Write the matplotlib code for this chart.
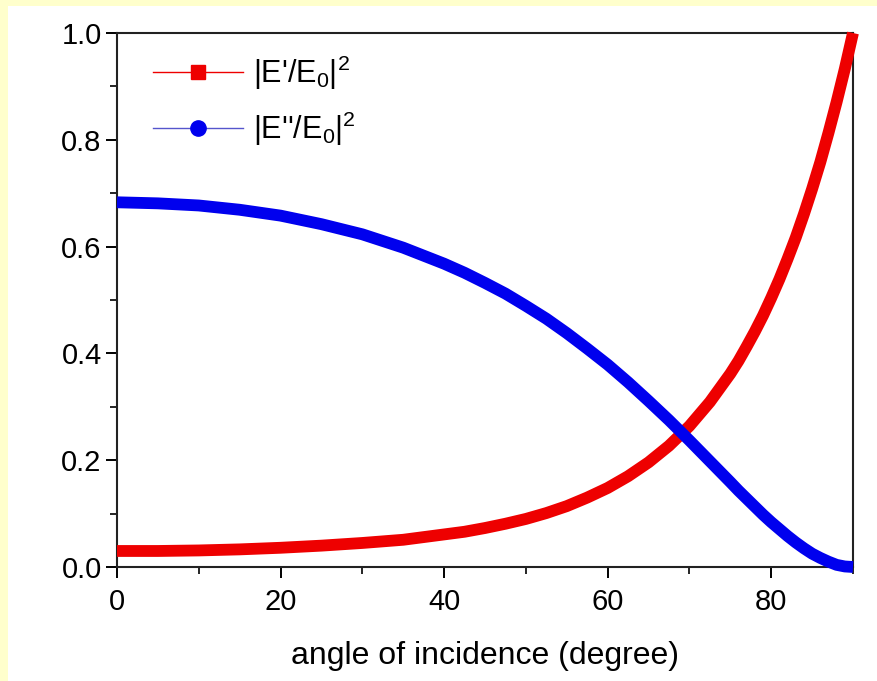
import matplotlib
matplotlib.use("Agg")
import matplotlib.pyplot as plt
from matplotlib.lines import Line2D
from matplotlib.patches import Rectangle
from matplotlib.ticker import MultipleLocator, FormatStrFormatter

plt.rcParams['font.family'] = ['Liberation Sans', 'DejaVu Sans']
plt.rcParams['mathtext.fontset'] = 'custom'
plt.rcParams['mathtext.rm'] = 'Liberation Sans'
plt.rcParams['mathtext.it'] = 'Liberation Sans'

angle = [0, 5, 10, 15, 20, 25, 30, 35, 40, 42.5, 45, 47.5, 50, 52.5, 55, 57.5,
         60, 62.5, 65, 67.5, 70, 72.5, 75, 76, 77, 78, 79, 80, 81, 82, 83, 84,
         85, 86, 87, 88, 89, 90]
reflected = [0.030, 0.030, 0.031, 0.033, 0.036, 0.040, 0.045, 0.051, 0.061, 0.066,
             0.073, 0.081, 0.090, 0.101, 0.114, 0.130, 0.148, 0.170, 0.196, 0.227,
             0.264, 0.309, 0.362, 0.386, 0.413, 0.441, 0.471, 0.504, 0.539, 0.577,
             0.617, 0.661, 0.708, 0.758, 0.813, 0.871, 0.933, 1.000]
transmitted = [0.683, 0.681, 0.677, 0.669, 0.658, 0.642, 0.623, 0.598, 0.568, 0.551,
               0.532, 0.512, 0.489, 0.465, 0.438, 0.409, 0.379, 0.346, 0.311, 0.275,
               0.237, 0.198, 0.159, 0.143, 0.128, 0.113, 0.098, 0.084, 0.071, 0.058,
               0.046, 0.035, 0.025, 0.017, 0.010, 0.004, 0.001, 0.000]
labels = ["|E'/E$_0$|$^2$", "|E''/E$_0$|$^2$"]
xlabel = "angle of incidence (degree)"

fig = plt.figure(figsize=(8.78, 6.81), dpi=100)
fig.patch.set_facecolor('#FFFFCC')
bg = Rectangle((8 / 878, 0), 1 - 8 / 878, 1 - 6 / 681,
               transform=fig.transFigure, facecolor='white',
               edgecolor='none', zorder=-10)
fig.add_artist(bg)

ax = fig.add_axes([117 / 878, 1 - 567 / 681, (853 - 117) / 878, (567 - 33) / 681])
ax.set_zorder(5)
ax.set_facecolor('white')

red = '#EE0000'
blue = '#0000EE'
ax.plot(angle, reflected, color=red, lw=8.5, solid_capstyle='butt',
        solid_joinstyle='round', clip_on=False, zorder=3)
ax.plot(angle, transmitted, color=blue, lw=8.5, solid_capstyle='butt',
        solid_joinstyle='round', clip_on=False, zorder=4)

ax.set_xlim(0, 90)
ax.set_ylim(0, 1.0)
ax.xaxis.set_major_locator(MultipleLocator(20))
ax.xaxis.set_minor_locator(MultipleLocator(10))
ax.yaxis.set_major_locator(MultipleLocator(0.2))
ax.yaxis.set_minor_locator(MultipleLocator(0.1))
ax.yaxis.set_major_formatter(FormatStrFormatter('%.1f'))

for s in ax.spines.values():
    s.set_linewidth(1.5)
    s.set_color('#222222')
ax.tick_params(which='major', direction='out', length=8, width=1.4, labelsize=21,
               top=False, right=False)
ax.tick_params(axis='x', which='major', pad=7)
ax.tick_params(axis='y', which='major', pad=3)
ax.tick_params(which='minor', direction='out', length=5, width=1.2,
               top=False, right=False)

ax.set_xlabel(xlabel, fontsize=23, labelpad=18)

handles = [Line2D([0], [0], color=red, lw=1, marker='s', markersize=10,
                  markerfacecolor=red, markeredgecolor=red),
           Line2D([0], [0], color='#5555CC', lw=1, marker='o', markersize=11,
                  markerfacecolor=blue, markeredgecolor=blue)]
ax.legend(handles, labels, loc='upper left', bbox_to_anchor=(0.049, 0.962),
          frameon=False, fontsize=22, handlelength=2.95, handletextpad=0.33,
          labelspacing=0.58, borderaxespad=0.0, borderpad=0.0)

fig.savefig('out.png', dpi=100, facecolor=fig.get_facecolor())
